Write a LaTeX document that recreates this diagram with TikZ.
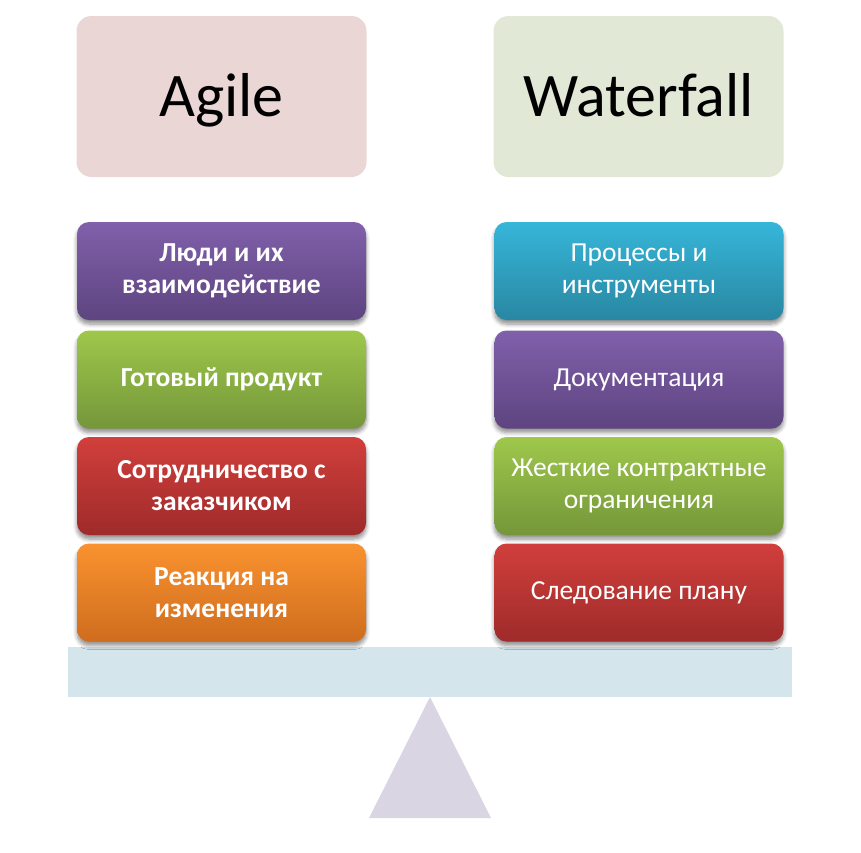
\documentclass[tikz,border=0pt]{standalone}
\usepackage{fontspec}
\setmainfont{Carlito}
\usetikzlibrary{shadows,shadows.blur}

\definecolor{agilebg}{HTML}{EBD6D6}
\definecolor{waterbg}{HTML}{E1E8D5}
\definecolor{purpleT}{HTML}{8060AB}
\definecolor{purpleB}{HTML}{5E4480}
\definecolor{greenT}{HTML}{9EC84B}
\definecolor{greenB}{HTML}{75963A}
\definecolor{redT}{HTML}{D13F3C}
\definecolor{redB}{HTML}{9E2B2A}
\definecolor{orangeT}{HTML}{F9922F}
\definecolor{orangeB}{HTML}{CF6D1E}
\definecolor{blueT}{HTML}{36B6D9}
\definecolor{blueB}{HTML}{2987A2}
\definecolor{beamfill}{HTML}{D5E5EC}
\definecolor{pivotfill}{HTML}{DAD5E3}

\tikzset{
  header/.style={rounded corners=15pt, minimum width=290pt, minimum height=161pt,
    inner sep=0pt, text height=40pt, text depth=0pt,
    font=\fontsize{62}{74}\selectfont, text=black},
  item/.style={rounded corners=12pt, minimum width=289pt, minimum height=98pt,
    inner sep=0pt, align=center, text=white, font=\fontsize{27.5}{32}\selectfont,
    blur shadow={shadow xshift=0pt, shadow yshift=-4pt, shadow blur steps=6,
      shadow blur radius=4pt, shadow opacity=45}},
  agileitem/.style={item, font=\fontsize{27.5}{32}\selectfont\bfseries},
  purplebox/.style={top color=purpleT, bottom color=purpleB},
  greenbox/.style={top color=greenT, bottom color=greenB},
  redbox/.style={top color=redT, bottom color=redB},
  orangebox/.style={top color=orangeT, bottom color=orangeB},
  bluebox/.style={top color=blueT, bottom color=blueB},
}

\begin{document}
\begin{tikzpicture}[x=1pt, y=-1pt]
  \useasboundingbox (0,0) rectangle (861,852);

  % column headers
  \node[header, fill=agilebg] (agile) at (221.5,96.5) {Agile};
  \node[header, fill=waterbg] (waterfall) at (638.5,96.5) {Waterfall};

  % balance beam and pivot
  \fill[beamfill] (68,647) rectangle (792,697);
  \coordinate (apex) at (430,697);
  \fill[pivotfill] (apex) -- (491,818) -- (369,818) -- cycle;

  % Agile values
  \node[agileitem, purplebox] (a1) at (221.5,271) {Люди и их\\взаимодействие};
  \node[agileitem, greenbox]  (a2) at (221.5,379.5) {Готовый продукт};
  \node[agileitem, redbox]    (a3) at (221.5,486) {Сотрудничество с\\заказчиком};
  \node[agileitem, orangebox] (a4) at (221.5,592.5) {Реакция на\\изменения};

  % Waterfall values
  \node[item, bluebox]   (w1) at (639,271) {Процессы и\\инструменты};
  \node[item, purplebox] (w2) at (639,379.5) {Документация};
  \node[item, greenbox]  (w3) at (639,486) {Жесткие контрактные\\ограничения};
  \node[item, redbox]    (w4) at (639,592.5) {Следование плану};
\end{tikzpicture}
\end{document}
